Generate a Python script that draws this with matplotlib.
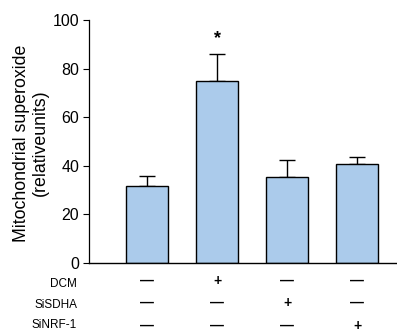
import matplotlib.pyplot as plt

plt.rcParams['font.family'] = ['Liberation Sans', 'DejaVu Sans']

groups = ['g1', 'g2', 'g3', 'g4']
means = [31.7, 75.0, 35.3, 40.6]
errors = [4.0, 11.0, 7.1, 2.9]
row_labels = ['DCM', 'SiSDHA', 'SiNRF-1']
signs = [
    ['\u2014', '+', '\u2014', '\u2014'],
    ['\u2014', '\u2014', '+', '\u2014'],
    ['\u2014', '\u2014', '\u2014', '+'],
]
BAR_COLOR = '#abcbeb'

fig = plt.figure(figsize=(3.97, 3.33), dpi=100)
ax = fig.add_axes([0.224, 0.21, 0.776, 0.73])

pos = list(range(len(groups)))
ax.bar(pos, means, width=0.6, color=BAR_COLOR, edgecolor='black', linewidth=1.0, zorder=2)
ax.errorbar(pos, means, yerr=[[0] * len(errors), errors], fmt='none',
            ecolor='black', elinewidth=1.0, capsize=6, capthick=1.0, zorder=1)
ax.text(1, means[1] + errors[1] + 3, '*', ha='center', va='bottom', fontsize=13, fontweight='bold')

ax.set_xlim(-0.83, 3.57)
ax.set_ylim(0, 100)
ax.set_yticks([0, 20, 40, 60, 80, 100])
ax.tick_params(axis='y', labelsize=11.5, length=4, width=0.8, direction='out', pad=3)
ax.set_xticks([])
ax.spines['top'].set_visible(False)
ax.spines['right'].set_visible(False)
ax.spines['left'].set_linewidth(0.9)
ax.spines['bottom'].set_linewidth(1.0)
fig.text(31 / 397, 0.571, 'Mitochondrial superoxide\n(relativeunits)', rotation=90,
         ha='center', va='center', fontsize=12.8, linespacing=1.2, multialignment='center')

# treatment table under the bars
label_y = [-8.6, -17.3, -25.6]
sign_y = [-7.2, -16.5, -25.7]
for r, label in enumerate(row_labels):
    ax.text(-1.0, label_y[r], label, ha='right', va='center', fontsize=8.5, clip_on=False)
    for c in pos:
        ax.text(c, sign_y[r], signs[r][c], ha='center', va='center', fontsize=10,
                fontweight='bold', clip_on=False)

fig.savefig('out.png', dpi=100)
